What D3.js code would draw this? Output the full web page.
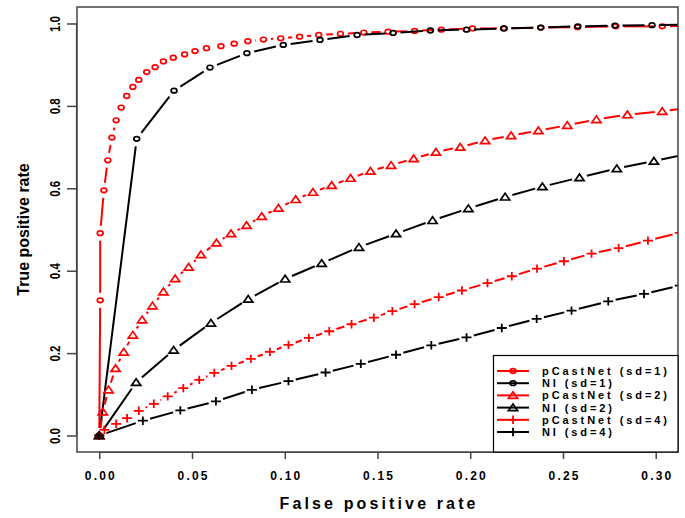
<!DOCTYPE html>
<html><head><meta charset="utf-8">
<script src="https://cdn.jsdelivr.net/npm/d3@7"></script>
<style>
body{margin:0;background:#fff}
svg{display:block}
text{font-family:"Liberation Sans",Arial,Helvetica,sans-serif;font-weight:bold;fill:#000}
</style>
</head><body>
<svg id="chart" width="685" height="518"></svg>
<script>
// ---- data ----
const xTicks = [0.00, 0.05, 0.10, 0.15, 0.20, 0.25, 0.30];
const yTicks = [0.0, 0.2, 0.4, 0.6, 0.8, 1.0];
const xTitle = "False positive rate";
const yTitle = "True positive rate";
const legendLabels = ["pCastNet (sd=1)", "NI (sd=1)", "pCastNet (sd=2)", "NI (sd=2)", "pCastNet (sd=4)", "NI (sd=4)"];

const pc1X = [0, 0.0005, 0.0005, 0.0025, 0.0046, 0.0068, 0.0091, 0.0118, 0.0148, 0.0181, 0.0213, 0.0256, 0.0301, 0.0346, 0.0399, 0.046, 0.0516, 0.0578, 0.0656, 0.0727, 0.0801, 0.0885, 0.0978, 0.108, 0.1183, 0.130, 0.1426, 0.1557, 0.170, 0.1844, 0.2012, 0.2184, 0.238, 0.2578, 0.2785, 0.3035, 0.33];
const pc1Y = [0, 0.328, 0.491, 0.595, 0.668, 0.723, 0.765, 0.796, 0.824, 0.846, 0.863, 0.882, 0.894, 0.908, 0.917, 0.925, 0.933, 0.940, 0.945, 0.951, 0.957, 0.961, 0.964, 0.968, 0.972, 0.975, 0.978, 0.980, 0.982, 0.985, 0.988, 0.988, 0.990, 0.991, 0.993, 0.993, 0.995];

const ni1X = [0, 0.0202, 0.0403, 0.0597, 0.0796, 0.0992, 0.119, 0.139, 0.1584, 0.1785, 0.198, 0.218, 0.238, 0.258, 0.278, 0.298, 0.318];
const ni1Y = [0, 0.720, 0.837, 0.893, 0.928, 0.948, 0.960, 0.972, 0.977, 0.983, 0.985, 0.988, 0.990, 0.993, 0.995, 0.996, 0.997];

const pc2X = [0, 0.0019, 0.005, 0.0088, 0.0132, 0.0181, 0.0231, 0.0287, 0.0346, 0.0409, 0.0482, 0.0548, 0.0632, 0.071, 0.0794, 0.0876, 0.0966, 0.1059, 0.1152, 0.1253, 0.1355, 0.1462, 0.1573, 0.1695, 0.1815, 0.1946, 0.208, 0.222, 0.2367, 0.2523, 0.268, 0.2847, 0.3035, 0.322];
const pc2Y = [0, 0.0576, 0.111, 0.163, 0.2027, 0.244, 0.281, 0.315, 0.349, 0.381, 0.409, 0.439, 0.4675, 0.490, 0.510, 0.532, 0.552, 0.573, 0.5905, 0.607, 0.6245, 0.6416, 0.656, 0.672, 0.688, 0.700, 0.716, 0.728, 0.740, 0.753, 0.767, 0.7786, 0.787, 0.797];

const ni2X = [0, 0.0199, 0.0401, 0.0602, 0.0803, 0.1002, 0.1199, 0.140, 0.160, 0.1797, 0.199, 0.2188, 0.2389, 0.2589, 0.279, 0.299, 0.319];
const ni2Y = [0, 0.129, 0.2075, 0.273, 0.331, 0.380, 0.418, 0.457, 0.490, 0.522, 0.551, 0.579, 0.604, 0.626, 0.648, 0.666, 0.685];

const pc4X = [0, 0.0028, 0.0091, 0.015, 0.0213, 0.0294, 0.0369, 0.0453, 0.0539, 0.062, 0.0713, 0.0817, 0.092, 0.102, 0.113, 0.124, 0.136, 0.148, 0.158, 0.170, 0.183, 0.1955, 0.2093, 0.2224, 0.236, 0.2505, 0.2654, 0.280, 0.2958, 0.313];
const pc4Y = [0, 0.0139, 0.0284, 0.042, 0.060, 0.077, 0.095, 0.115, 0.135, 0.152, 0.169, 0.186, 0.203, 0.220, 0.237, 0.253, 0.270, 0.286, 0.302, 0.319, 0.336, 0.352, 0.370, 0.3865, 0.405, 0.423, 0.4415, 0.455, 0.473, 0.492];

const ni4X = [0, 0.0235, 0.0437, 0.0629, 0.0823, 0.102, 0.122, 0.141, 0.160, 0.179, 0.198, 0.217, 0.2358, 0.2546, 0.2744, 0.2937, 0.313];
const ni4Y = [0, 0.036, 0.061, 0.083, 0.111, 0.132, 0.153, 0.174, 0.196, 0.219, 0.238, 0.261, 0.283, 0.303, 0.3257, 0.3436, 0.364];

const seriesColors = ["#ff0000", "#000000", "#ff0000", "#000000", "#ff0000", "#000000"];
const seriesShapes = ["circle", "circle", "triangle", "triangle", "plus", "plus"];

// ---- layout ----
const svg = d3.select("#chart");
const L = 77, R = 678, T = 7, B = 452;
const x = d3.scaleLinear().domain([-0.012, 0.312]).range([L, R]);
const y = d3.scaleLinear().domain([-0.04, 1.04]).range([B, T]);

const series = [
  {xs: pc1X, ys: pc1Y}, {xs: ni1X, ys: ni1Y},
  {xs: pc2X, ys: pc2Y}, {xs: ni2X, ys: ni2Y},
  {xs: pc4X, ys: pc4Y}, {xs: ni4X, ys: ni4Y}
].map((s, i) => ({
  pts: s.xs.map((v, j) => [v, s.ys[j]]),
  color: seriesColors[i], shape: seriesShapes[i], label: legendLabels[i]
}));

svg.append("defs").append("clipPath").attr("id", "clip")
  .append("rect").attr("x", L).attr("y", T).attr("width", R - L).attr("height", B - T);

const plot = svg.append("g").attr("clip-path", "url(#clip)");

function drawMarker(g, shape, cx, cy, color) {
  if (shape === "circle") {
    g.append("ellipse").attr("cx", cx).attr("cy", cy).attr("rx", 2.9).attr("ry", 2.3)
      .attr("fill", "none").attr("stroke", color).attr("stroke-width", 1.7);
  } else if (shape === "triangle") {
    const w = 4.6, h = 3.6;
    g.append("path")
      .attr("d", `M${cx},${cy - h}L${cx + w},${cy + h * 0.85}L${cx - w},${cy + h * 0.85}Z`)
      .attr("fill", "none").attr("stroke", color).attr("stroke-width", 1.7).attr("stroke-linejoin", "miter");
  } else {
    const w = 5, h = 4.2;
    g.append("path")
      .attr("d", `M${cx - w},${cy}H${cx + w}M${cx},${cy - h}V${cy + h}`)
      .attr("fill", "none").attr("stroke", color).attr("stroke-width", 1.8);
  }
}

const gap = 7.5;
series.forEach(s => {
  const g = plot.append("g");
  const px = s.pts.map(p => [x(p[0]), y(p[1])]);
  for (let i = 0; i < px.length - 1; i++) {
    const [x0, y0] = px[i], [x1, y1] = px[i + 1];
    const d = Math.hypot(x1 - x0, y1 - y0);
    if (d <= 2 * gap) continue;
    const ux = (x1 - x0) / d, uy = (y1 - y0) / d;
    g.append("line")
      .attr("x1", x0 + ux * gap).attr("y1", y0 + uy * gap)
      .attr("x2", x1 - ux * gap).attr("y2", y1 - uy * gap)
      .attr("stroke", s.color).attr("stroke-width", 2);
  }
  px.forEach(p => drawMarker(g, s.shape, p[0], p[1], s.color));
});

// ---- box ----
svg.append("rect").attr("x", L).attr("y", T).attr("width", R - L).attr("height", B - T)
  .attr("fill", "none").attr("stroke", "#444").attr("stroke-width", 1.5);

// ---- axes ----
const xAxis = d3.axisBottom(x).tickValues(xTicks).tickSize(7).tickFormat(d3.format(".2f"));
const gx = svg.append("g").attr("transform", `translate(0,${B})`).call(xAxis);
gx.select(".domain").attr("d", `M${x(0)},0.5H${x(0.30)}`).attr("stroke", "#444").attr("stroke-width", 1.2);
gx.selectAll(".tick line").attr("stroke", "#444").attr("stroke-width", 1.5);
gx.selectAll(".tick text").attr("y", 0).attr("dy", 0)
  .attr("transform", "translate(0,28)")
  .style("font-size", "12px").attr("fill", "#000")
  .attr("textLength", 30).attr("lengthAdjust", "spacing");

const yAxis = d3.axisLeft(y).tickValues(yTicks).tickSize(10).tickFormat(d3.format(".1f"));
const gy = svg.append("g").attr("transform", `translate(${L},0)`).call(yAxis);
gy.select(".domain").attr("d", `M-0.5,${y(0)}V${y(1)}`).attr("stroke", "#444").attr("stroke-width", 1.2);
gy.selectAll(".tick line").attr("stroke", "#444").attr("stroke-width", 1.5);
gy.selectAll(".tick text")
  .attr("x", 0).attr("dy", 0).attr("text-anchor", "middle")
  .attr("transform", "translate(-17.5,0) scale(1.2,1) rotate(-90)")
  .style("font-size", "11.5px").attr("fill", "#000");
svg.selectAll(".tick text").style("font-family", "'Liberation Sans',Arial,sans-serif").style("font-weight", "bold");

// ---- titles ----
svg.append("text").attr("x", (L + R) / 2).attr("y", 508.5).attr("text-anchor", "middle")
  .style("font-size", "16px").attr("textLength", 196).attr("lengthAdjust", "spacing").text(xTitle);
svg.append("text").attr("transform", `translate(29,${(T + B) / 2}) rotate(-90)`).attr("text-anchor", "middle")
  .style("font-size", "16px").text(yTitle);

// ---- legend ----
const lg = svg.append("g");
lg.append("rect").attr("x", 493.5).attr("y", 355.5).attr("width", R - 493.5).attr("height", B - 355.5)
  .attr("fill", "#fff").attr("stroke", "#000").attr("stroke-width", 1.2);
const rowY = d3.scalePoint().domain(legendLabels).range([371, 432]);
series.forEach(s => {
  const yy = rowY(s.label);
  lg.append("line").attr("x1", 497).attr("x2", 529).attr("y1", yy).attr("y2", yy)
    .attr("stroke", s.color).attr("stroke-width", 2);
  drawMarker(lg, s.shape, 513, yy, s.color);
  const w = s.label.startsWith("p") ? 125 : 70;
  lg.append("text").attr("x", 542).attr("y", yy + 4).style("font-size", "11px")
    .attr("textLength", w).attr("lengthAdjust", "spacing").text(s.label);
});
</script>
</body></html>
